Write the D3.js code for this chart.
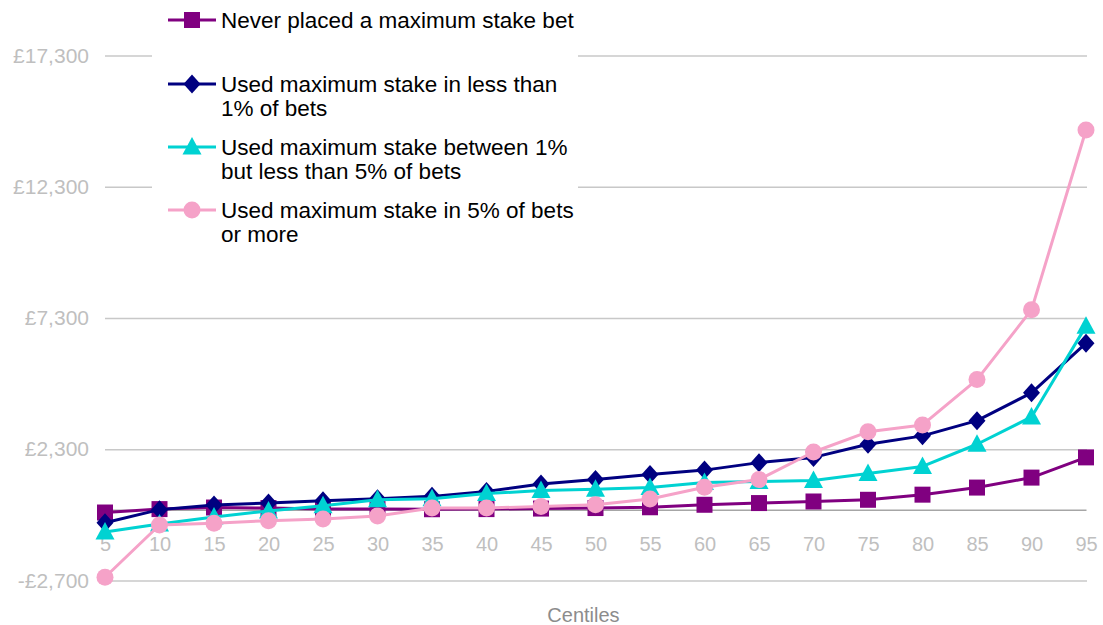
<!DOCTYPE html>
<html>
<head>
<meta charset="utf-8">
<script src="https://cdn.jsdelivr.net/npm/d3@7"></script>
<style>
  body { margin: 0; background: #fff; }
  text { font-family: "Liberation Sans", Arial, sans-serif; }
</style>
</head>
<body>
<div id="my_dataviz"></div>
<script>
// data (stake values in £, by centile)
var centiles = [5, 10, 15, 20, 25, 30, 35, 40, 45, 50, 55, 60, 65, 70, 75, 80, 85, 90, 95];
var neverMax = [-110, 20, 80, 60, 20, 20, 15, 20, 40, 60, 90, 185, 250, 310, 375, 570, 840, 1220, 1990];
var underOne = [-500, 0, 175, 250, 340, 415, 505, 695, 980, 1145, 1340, 1505, 1790, 1990, 2490, 2810, 3390, 4450, 6340];
var oneToFive = [-850, -545, -280, -50, 145, 375, 415, 610, 725, 780, 840, 1030, 1070, 1110, 1375, 1645, 2490, 3530, 6990];
var fivePlus = [-2575, -585, -520, -420, -355, -240, 60, 60, 120, 185, 405, 850, 1145, 2195, 2965, 3225, 4955, 7610, 14460];
var yTicks = [-2700, 2300, 7300, 12300, 17300];
var seriesNames = [
  ["Never placed a maximum stake bet"],
  ["Used maximum stake in less than", "1% of bets"],
  ["Used maximum stake between 1%", "but less than 5% of bets"],
  ["Used maximum stake in 5% of bets", "or more"]
];

// set the dimensions and margins of the graph
var margin = {top: 55.5, right: 17, bottom: 44.5, left: 105},
    width = 1103 - margin.left - margin.right,
    height = 625 - margin.top - margin.bottom;

var root = d3.select("#my_dataviz")
    .append("svg")
    .attr("width", width + margin.left + margin.right)
    .attr("height", height + margin.top + margin.bottom);

var svg = root.append("g")
    .attr("transform", "translate(" + margin.left + "," + margin.top + ")");

var x = d3.scalePoint()
    .domain(centiles)
    .range([0, width]);

var y = d3.scaleLinear()
    .domain([-2700, 17300])
    .range([height, 0]);

var money = function(d) {
  return (d < 0 ? "-" : "") + "£" + d3.format(",")(Math.abs(d));
};

// Y axis + gridlines
var yAxis = svg.append("g")
    .call(d3.axisLeft(y).tickValues(yTicks).tickSize(-width - 1).tickPadding(16).tickFormat(money));
yAxis.select(".domain").remove();
yAxis.selectAll("line").attr("stroke", "#c8c8c8").attr("stroke-width", 1.5);
yAxis.selectAll("text")
    .attr("fill", "#bfbfbf")
    .style("font-size", "21px")
    .style("font-family", "'Liberation Sans', Arial, sans-serif");

// X axis sits on zero
var xAxis = svg.append("g")
    .attr("transform", "translate(0," + y(0) + ")")
    .call(d3.axisBottom(x).tickSize(0).tickPadding(27));
xAxis.select(".domain").attr("stroke", "#a6a6a6").attr("stroke-width", 1.5);
xAxis.selectAll("text")
    .attr("fill", "#bfbfbf")
    .style("font-size", "20px")
    .style("font-family", "'Liberation Sans', Arial, sans-serif");

svg.append("text")
    .attr("x", width / 2 - 12)
    .attr("y", height + 41)
    .attr("text-anchor", "middle")
    .attr("fill", "#8c8c8c")
    .style("font-size", "20px")
    .text("Centiles");

// marker shapes
var shapes = {
  square: function(s) { return "M" + (-s) + "," + (-s) + "h" + 2 * s + "v" + 2 * s + "h" + (-2 * s) + "Z"; },
  diamond: function(s) { return "M0," + (-s - 1) + "L" + s + ",0L0," + (s + 1) + "L" + (-s) + ",0Z"; },
  triangle: function(s) { return "M0," + (-s - 1.5) + "L" + (s + 1) + "," + (s - 1) + "L" + (-s - 1) + "," + (s - 1) + "Z"; },
  circle: function(s) { return "M" + (-s) + ",0a" + s + "," + s + " 0 1,0 " + 2 * s + ",0a" + s + "," + s + " 0 1,0 " + (-2 * s) + ",0Z"; }
};

var series = [
  {values: neverMax, color: "#800080", shape: "square", size: 8},
  {values: underOne, color: "#000080", shape: "diamond", size: 8.5},
  {values: oneToFive, color: "#00d2d2", shape: "triangle", size: 8.5},
  {values: fivePlus, color: "#f5a2c8", shape: "circle", size: 8.5}
];

var line = d3.line()
    .x(function(d, i) { return x(centiles[i]); })
    .y(function(d) { return y(d); });

series.forEach(function(s) {
  var g = svg.append("g");
  g.append("path")
      .datum(s.values)
      .attr("fill", "none")
      .attr("stroke", s.color)
      .attr("stroke-width", 3)
      .attr("stroke-linejoin", "round")
      .attr("d", line);
  g.selectAll("path.mark")
      .data(s.values)
      .enter().append("path")
      .attr("class", "mark")
      .attr("transform", function(d, i) { return "translate(" + x(centiles[i]) + "," + y(d) + ")"; })
      .attr("d", shapes[s.shape](s.size))
      .attr("fill", s.color);
});

// legend on a white box over the gridlines
var legend = root.append("g");
legend.append("rect")
    .attr("x", 152).attr("y", 0)
    .attr("width", 426).attr("height", 246)
    .attr("fill", "#fff");

var rowY = [20, 84, 147, 210];
series.forEach(function(s, i) {
  var row = legend.append("g").attr("transform", "translate(0," + rowY[i] + ")");
  row.append("line")
      .attr("x1", 168).attr("x2", 216)
      .attr("stroke", s.color).attr("stroke-width", 3);
  row.append("path")
      .attr("transform", "translate(192,0)")
      .attr("d", shapes[s.shape](s.size))
      .attr("fill", s.color);
  row.selectAll("text")
      .data(seriesNames[i])
      .enter().append("text")
      .attr("x", 221)
      .attr("y", function(d, j) { return j * 24; })
      .attr("dy", "0.35em")
      .attr("fill", "#000")
      .style("font-size", "22.5px")
      .text(function(d) { return d; });
});
</script>
</body>
</html>
